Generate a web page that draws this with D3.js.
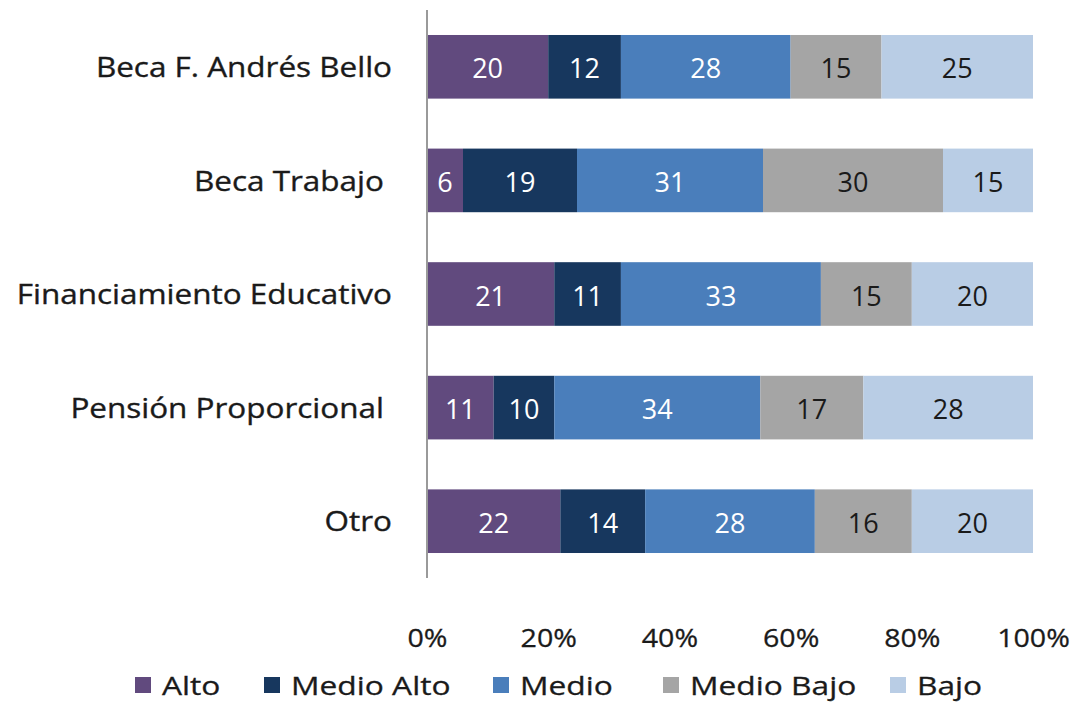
<!DOCTYPE html>
<html><head><meta charset="utf-8">
<script src="https://cdn.jsdelivr.net/npm/d3@7"></script>
<style>
html,body{margin:0;padding:0;background:#fff;}
svg{display:block;font-family:"Open Sans",sans-serif;}
</style></head>
<body><svg id="c" width="1080" height="702"></svg>
<script>
const categories = ["Beca F. Andrés Bello","Beca Trabajo ","Financiamiento Educativo","Pensión Proporcional ","Otro"];
const seriesNames = ["Alto","Medio Alto","Medio","Medio Bajo","Bajo"];
const alto       = [20, 6, 21, 11, 22];
const medioAlto  = [12, 19, 11, 10, 14];
const medio      = [28, 31, 33, 34, 28];
const medioBajo  = [15, 30, 15, 17, 16];
const bajo       = [25, 15, 20, 28, 20];
const tickValues = [0, 0.2, 0.4, 0.6, 0.8, 1];
const colors = ["#614a7e","#17375e","#4a7ebb","#a5a5a5","#b9cde5"];
const labelColors = ["#ffffff","#ffffff","#ffffff","#1a1a1a","#1a1a1a"];

const seriesArrays = [alto, medioAlto, medio, medioBajo, bajo];
const rows = categories.map((c,i)=>{
  const o = {cat:c};
  seriesNames.forEach((s,j)=>o[s]=seriesArrays[j][i]);
  return o;
});
const stacked = d3.stack().keys(seriesNames).offset(d3.stackOffsetExpand)(rows);

const svg = d3.select("#c");
const x = d3.scaleLinear().domain([0,1]).range([427,1033]);
const y = d3.scaleBand().domain(categories).range([10,578]).paddingInner(0.44).paddingOuter(0.22);

const g = svg.append("g");
stacked.forEach((layer,j)=>{
  const lg = g.append("g");
  lg.selectAll("rect").data(layer).enter().append("rect")
    .attr("x",d=>x(d[0])).attr("y",d=>y(d.data.cat))
    .attr("width",d=>x(d[1])-x(d[0])).attr("height",y.bandwidth())
    .attr("fill",colors[j]);
  lg.selectAll("text").data(layer).enter().append("text")
    .attr("x",d=>(x(d[0])+x(d[1]))/2).attr("y",d=>y(d.data.cat)+y.bandwidth()/2+1)
    .attr("text-anchor","middle").attr("dominant-baseline","central")
    .attr("font-size",27).attr("fill",labelColors[j])
    .text(d=>d.data[seriesNames[j]]);
});

// vertical axis line
svg.append("line").attr("x1",427).attr("x2",427).attr("y1",10).attr("y2",578)
  .attr("stroke","#9a9a9a").attr("stroke-width",2);

// category labels
svg.append("g").selectAll("text").data(categories).enter().append("text")
  .attr("transform",d=>`translate(392,${y(d)+y.bandwidth()/2}) scale(1.165,1)`)
  .attr("text-anchor","end").attr("dominant-baseline","central")
  .attr("font-size",27).attr("fill","#1a1a1a")
  .attr("stroke","#1a1a1a").attr("stroke-width",0.35)
  .style("white-space","pre")
  .text(d=>d);

// x axis tick labels
const xAxis = d3.axisBottom(x).tickValues(tickValues).tickFormat(d3.format(".0%")).tickSize(0).tickPadding(0);
const ax = svg.append("g").call(xAxis);
ax.select(".domain").remove();
ax.selectAll("text").attr("y",637).attr("dy",null).attr("dominant-baseline","central")
  .attr("transform","scale(1.1,1)")
  .attr("font-size",26).attr("fill","#1a1a1a").attr("font-family","Open Sans, sans-serif")
  .attr("stroke","#1a1a1a").attr("stroke-width",0.3);

// legend
const legendX = [135,264,493,663,890];
const lgd = svg.append("g");
seriesNames.forEach((s,j)=>{
  lgd.append("rect").attr("x",legendX[j]).attr("y",677).attr("width",16).attr("height",16).attr("fill",colors[j]);
  lgd.append("text").attr("transform",`translate(${legendX[j]+27},685) scale(1.22,1)`)
    .attr("dominant-baseline","central")
    .attr("font-size",26).attr("fill","#1a1a1a")
    .attr("stroke","#1a1a1a").attr("stroke-width",0.3).text(s);
});
</script></body></html>
